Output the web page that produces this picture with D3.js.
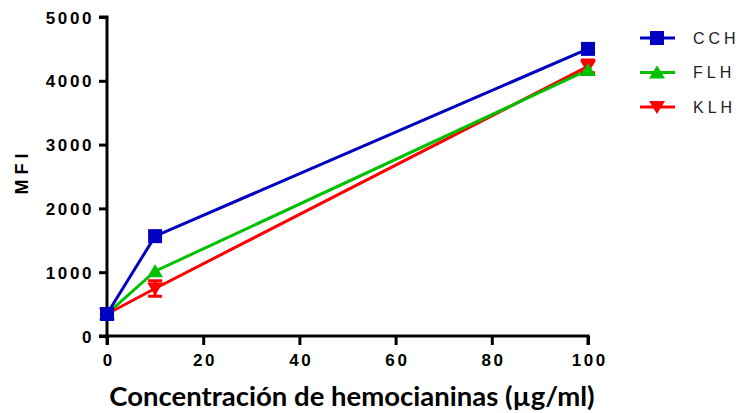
<!DOCTYPE html>
<html>
<head>
<meta charset="utf-8">
<script src="https://cdn.jsdelivr.net/npm/d3@7"></script>
<style>
  body { margin: 0; background: #fff; }
  svg { display: block; }
</style>
</head>
<body>
<svg id="chart" width="746" height="413"></svg>
<script>
// Concentrations (µg/ml) and mean fluorescence intensity per hemocyanin
const concentrations = [0, 10, 100];
const seriesNames = ["CCH", "FLH", "KLH"];
const seriesColors = ["#0000c0", "#00c000", "#ff0000"];
const cchValues = [345, 1565, 4500];
const flhValues = [345, 1015, 4170];
const klhValues = [345, 745, 4225];
const klhErrors = [0, 120, 100];
const xTicks = [0, 20, 40, 60, 80, 100];
const yTicks = [0, 1000, 2000, 3000, 4000, 5000];

const svg = d3.select("#chart");
const x = d3.scaleLinear().domain([0, 100]).range([107, 588]);
const y = d3.scaleLinear().domain([0, 5000]).range([336, 17]);

const series = [
  { name: seriesNames[0], color: seriesColors[0], values: cchValues, errors: null, symbol: "square" },
  { name: seriesNames[1], color: seriesColors[1], values: flhValues, errors: null, symbol: "up" },
  { name: seriesNames[2], color: seriesColors[2], values: klhValues, errors: klhErrors, symbol: "down" }
];

function symbolPath(kind) {
  if (kind === "square") return "M-7,-7H7V7H-7Z";
  if (kind === "up") return "M0,-7L8,6H-8Z";
  return "M0,7L8,-6H-8Z";
}

const tickFont = "'Liberation Sans', Arial, sans-serif";

// Axes
const yAxis = d3.axisLeft(y).tickValues(yTicks).tickSize(8).tickPadding(6).tickFormat(d3.format("d"));
const xAxis = d3.axisBottom(x).tickValues(xTicks).tickSize(9).tickPadding(7).tickFormat(d3.format("d"));

const gy = svg.append("g").attr("transform", "translate(107,0)").call(yAxis);
const gx = svg.append("g").attr("transform", "translate(0,336)").call(xAxis);
[gy, gx].forEach(g => {
  g.attr("font-family", tickFont).attr("font-size", 17);
  g.select(".domain").attr("stroke", "#000").attr("stroke-width", 3);
  g.selectAll(".tick line").attr("stroke", "#000").attr("stroke-width", 3);
  g.selectAll(".tick text")
    .attr("fill", "#000")
    .attr("font-weight", "bold")
    .attr("letter-spacing", "2.6px");
});
gy.select(".domain").attr("d", "M-8,17H0V345");
gx.select(".domain").attr("d", "M99,0H588V9");
gy.selectAll(".tick text").attr("dy", "0.36em").attr("dx", "1px");
gx.selectAll(".tick text").attr("dx", "1.3px").attr("dy", "0.8em");

// Axis titles
svg.append("text")
  .attr("transform", "translate(28,174) rotate(-90)")
  .attr("text-anchor", "middle")
  .attr("font-family", tickFont)
  .attr("font-weight", "bold")
  .attr("font-size", 18)
  .attr("letter-spacing", "5px")
  .attr("dx", "2.5px")
  .text("MFI");

svg.append("text")
  .attr("x", 352)
  .attr("y", 406)
  .attr("text-anchor", "middle")
  .attr("font-family", "Lato, 'Open Sans', sans-serif")
  .attr("font-weight", "bold")
  .attr("font-size", 27.5)
  .text("Concentración de hemocianinas (µg/ml)");

// Lines, error bars and markers
const line = d3.line().x((d, i) => x(concentrations[i])).y(d => y(d));
const plot = svg.append("g");
series.slice().reverse().forEach(s => {
  plot.append("path")
    .datum(s.values)
    .attr("fill", "none")
    .attr("stroke", s.color)
    .attr("stroke-width", 3)
    .attr("d", line);
});
series.slice().reverse().forEach(s => {
  if (s.errors) {
    s.values.forEach((v, i) => {
      const e = s.errors[i];
      if (!e) return;
      const cx = x(concentrations[i]);
      plot.append("path")
        .attr("stroke", s.color)
        .attr("stroke-width", 3)
        .attr("fill", "none")
        .attr("d", `M${cx},${y(v - e)}V${y(v + e)}M${cx - 7},${y(v - e)}H${cx + 7}M${cx - 7},${y(v + e)}H${cx + 7}`);
    });
  }
  s.values.forEach((v, i) => {
    plot.append("path")
      .attr("transform", `translate(${x(concentrations[i])},${y(v)})`)
      .attr("d", symbolPath(s.symbol))
      .attr("fill", s.color);
  });
});

// Legend
const legend = svg.append("g");
series.forEach((s, i) => {
  const ly = 38 + i * 34.5;
  legend.append("line")
    .attr("x1", 640).attr("x2", 675)
    .attr("y1", ly).attr("y2", ly)
    .attr("stroke", s.color).attr("stroke-width", 3);
  legend.append("path")
    .attr("transform", `translate(657,${ly})`)
    .attr("d", symbolPath(s.symbol))
    .attr("fill", s.color);
  legend.append("text")
    .attr("x", 693).attr("y", ly)
    .attr("dy", "0.36em")
    .attr("font-family", tickFont)
    .attr("font-size", 16)
    .attr("letter-spacing", "4px")
    .attr("fill", "#222")
    .text(s.name);
});
</script>
</body>
</html>
